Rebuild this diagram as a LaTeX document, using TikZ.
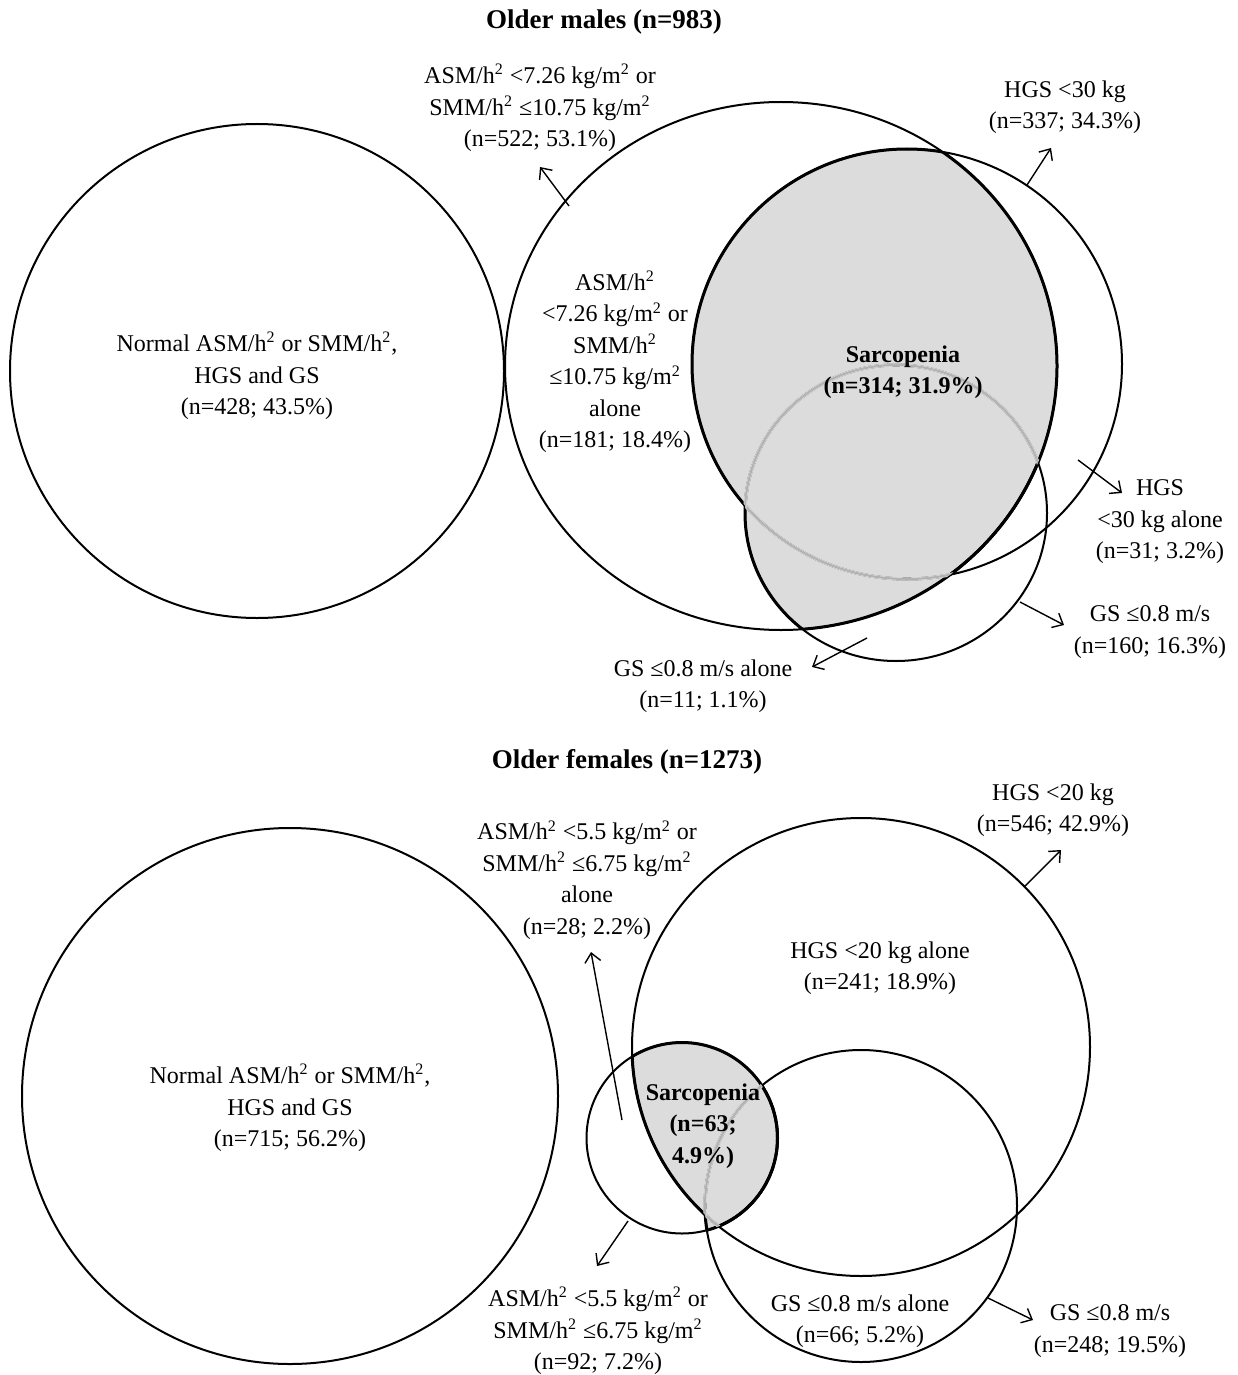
\documentclass[tikz,border=0pt]{standalone}
\usepackage{fontspec}
\setmainfont{Liberation Serif}
\usetikzlibrary{arrows.meta}
\definecolor{sarc}{HTML}{DCDCDC}
\definecolor{sarcline}{HTML}{B2B2B2}
\tikzset{ring/.style={line width=1pt},
  rim/.style={line width=1.5pt},
  inner/.style={line width=1pt, sarcline},
  lab/.style={align=center, inner sep=0pt, font=\fontsize{12}{15.75}\selectfont},
  blab/.style={lab, font=\bfseries\fontsize{12}{15.75}\selectfont},
  ttl/.style={inner sep=0pt, font=\bfseries\fontsize{13.5}{16}\selectfont},
  pt/.style={-{Straight Barb[length=4.5pt,width=8pt]}, line width=0.7pt}}
\newcommand{\sq}{\textsuperscript{2}}
% circles, males
\newcommand{\nrmM}{(257,371) circle [radius=247]}
\newcommand{\asmM}{(781,366) ellipse [x radius=276, y radius=264]}
\newcommand{\hgsM}{(907,364) circle [radius=215]}
\newcommand{\gsM}{(896,513) ellipse [x radius=151, y radius=148]}
% circles, females
\newcommand{\nrmF}{(290,1096) circle [radius=268]}
\newcommand{\asmF}{(682,1138) circle [radius=95.5]}
\newcommand{\hgsF}{(861,1047) circle [radius=229]}
\newcommand{\gsF}{(861,1206) circle [radius=156]}

\begin{document}
\begin{tikzpicture}[x=0.5pt, y=-0.5pt]
\path[use as bounding box, fill=white] (0,0) rectangle (1237,1375);

%% older males
\begin{scope}
  \clip \asmM;
  \fill[sarc] \hgsM;
  \fill[sarc] \gsM;
\end{scope}
\draw[ring] \nrmM;
\draw[ring] \asmM;
\draw[ring] \hgsM;
\draw[ring] \gsM;
\begin{scope}
  \clip \asmM;
  \draw[rim] \hgsM;
  \draw[rim] \gsM;
\end{scope}
\begin{scope}
  \clip \hgsM;
  \draw[rim] \asmM;
\end{scope}
\begin{scope}
  \clip \gsM;
  \draw[rim] \asmM;
\end{scope}
\begin{scope}
  \clip \asmM; \clip \gsM;
  \draw[line width=1.7pt, sarc] \hgsM;
  \draw[inner] \hgsM;
\end{scope}
\begin{scope}
  \clip \asmM; \clip \hgsM;
  \draw[line width=1.7pt, sarc] \gsM;
  \draw[inner] \gsM;
\end{scope}

\node[ttl] (tm) at (604,22) {Older males (n=983)};
\node[lab] (nrmMtxt) at (257,376)
  {Normal ASM/h\sq{} or SMM/h\sq,\\HGS and GS\\(n=428; 43.5\%)};
\node[lab] (asmMout) at (540,108)
  {ASM/h\sq{} <7.26 kg/m\sq{} or\\SMM/h\sq{} ≤10.75 kg/m\sq\\(n=522; 53.1\%)};
\node[lab] (asmMal) at (615,362)
  {ASM/h\sq\\<7.26 kg/m\sq{} or\\SMM/h\sq\\≤10.75 kg/m\sq\\alone\\(n=181; 18.4\%)};
\node[blab] (sarcM) at (903,372) {Sarcopenia\\(n=314; 31.9\%)};
\node[lab] (hgsMout) at (1065,107) {HGS <30 kg\\(n=337; 34.3\%)};
\node[lab] (hgsMal) at (1160,522) {HGS\\<30 kg alone\\(n=31; 3.2\%)};
\node[lab] (gsMout) at (1150,632) {GS ≤0.8 m/s\\(n=160; 16.3\%)};
\node[lab] (gsMal) at (703,686) {GS ≤0.8 m/s alone\\(n=11; 1.1\%)};

\coordinate (a1) at (569,206);  \coordinate (b1) at (540,167);
\coordinate (a2) at (1027,185); \coordinate (b2) at (1051,148);
\coordinate (a3) at (1078,460); \coordinate (b3) at (1122,493);
\coordinate (a4) at (1020,602); \coordinate (b4) at (1064,625);
\coordinate (a5) at (867,638);  \coordinate (b5) at (812,667);
\foreach \i in {1,...,5}
  \draw[pt] (a\i) -- (b\i);

%% older females
\begin{scope}
  \clip \asmF;
  \fill[sarc] \hgsF;
  \fill[sarc] \gsF;
\end{scope}
\draw[ring] \nrmF;
\draw[ring] \asmF;
\draw[ring] \hgsF;
\draw[ring] \gsF;
\begin{scope}
  \clip \asmF;
  \draw[rim] \hgsF;
  \draw[rim] \gsF;
\end{scope}
\begin{scope}
  \clip \hgsF;
  \draw[rim] \asmF;
\end{scope}
\begin{scope}
  \clip \gsF;
  \draw[rim] \asmF;
\end{scope}
\begin{scope}
  \clip \asmF; \clip \gsF;
  \draw[line width=1.7pt, sarc] \hgsF;
  \draw[inner] \hgsF;
\end{scope}
\begin{scope}
  \clip \asmF; \clip \hgsF;
  \draw[line width=1.7pt, sarc] \gsF;
  \draw[inner] \gsF;
\end{scope}

\node[ttl] (tf) at (627,762) {Older females (n=1273)};
\node[lab] (nrmFtxt) at (290,1108)
  {Normal ASM/h\sq{} or SMM/h\sq,\\HGS and GS\\(n=715; 56.2\%)};
\node[lab] (asmFal) at (587,880)
  {ASM/h\sq{} <5.5 kg/m\sq{} or\\SMM/h\sq{} ≤6.75 kg/m\sq\\alone\\(n=28; 2.2\%)};
\node[lab] (hgsFout) at (1053,810) {HGS <20 kg\\(n=546; 42.9\%)};
\node[lab] (hgsFal) at (880,968) {HGS <20 kg alone\\(n=241; 18.9\%)};
\node[blab] (sarcF) at (703,1126) {Sarcopenia\\(n=63;\\4.9\%)};
\node[lab] (asmFout) at (598,1331)
  {ASM/h\sq{} <5.5 kg/m\sq{} or\\SMM/h\sq{} ≤6.75 kg/m\sq\\(n=92; 7.2\%)};
\node[lab] (gsFal) at (860,1321) {GS ≤0.8 m/s alone\\(n=66; 5.2\%)};
\node[lab] (gsFout) at (1110,1331) {GS ≤0.8 m/s\\(n=248; 19.5\%)};

\coordinate (c1) at (622,1120); \coordinate (d1) at (591,952);
\coordinate (c2) at (1024,887); \coordinate (d2) at (1061,850);
\coordinate (c3) at (628,1221); \coordinate (d3) at (597,1266);
\coordinate (c4) at (988,1298); \coordinate (d4) at (1033,1320);
\foreach \i in {1,...,4}
  \draw[pt] (c\i) -- (d\i);
\end{tikzpicture}
\end{document}
